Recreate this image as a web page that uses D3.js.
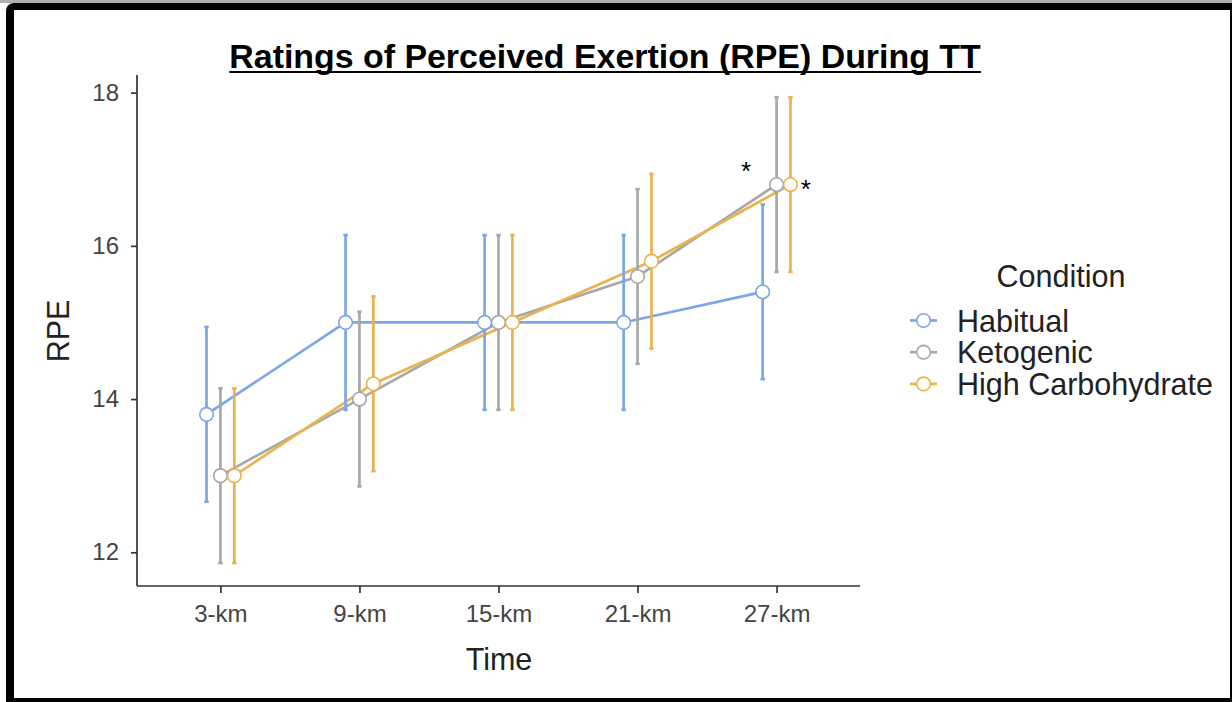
<!DOCTYPE html>
<html>
<head>
<meta charset="utf-8">
<script src="https://cdn.jsdelivr.net/npm/d3@7"></script>
<style>
  html, body { margin: 0; padding: 0; background: #fff; }
  svg { display: block; font-family: "Liberation Sans", Arial, Helvetica, sans-serif; }
</style>
</head>
<body>
<svg id="chart" width="1232" height="702"></svg>
<script>
// time points on the x axis
const distances = ["3-km", "9-km", "15-km", "21-km", "27-km"];
const conditions = ["Habitual", "Ketogenic", "High Carbohydrate"];

// mean RPE per condition
const habitual = [13.8, 15.0, 15.0, 15.0, 15.4];
const ketogenic = [13.0, 14.0, 15.0, 15.6, 16.8];
const highCarb = [13.0, 14.2, 15.0, 15.8, 16.8];

// error bar half-widths
const habitualErr = [1.14, 1.14, 1.14, 1.14, 1.14];
const ketogenicErr = [1.14, 1.14, 1.14, 1.14, 1.14];
const highCarbErr = [1.14, 1.14, 1.14, 1.14, 1.14];

const yTicks = [12, 14, 16, 18];

// significance marks near 27-km
const stars = [
  { at: "27-km", shift: -0.22, y: 16.86, label: "*" },
  { at: "27-km", shift: 0.21, y: 16.63, label: "*" }
];

const colors = ["#7ba7e9", "#a8a8a8", "#e9b44f"];
const dodge = [-0.1, 0, 0.1];

const series = [
  { name: conditions[0], means: habitual, errs: habitualErr },
  { name: conditions[1], means: ketogenic, errs: ketogenicErr },
  { name: conditions[2], means: highCarb, errs: highCarbErr }
];

const svg = d3.select("#chart");

// photo frame around the figure
svg.append("rect").attr("x", 0).attr("y", 0).attr("width", 1232).attr("height", 3).attr("fill", "#b0b0b0");
svg.append("rect").attr("x", 6).attr("y", 3).attr("width", 1240).attr("height", 720)
  .attr("rx", 8).attr("fill", "#000");
svg.append("rect").attr("x", 14).attr("y", 10).attr("width", 1216).attr("height", 688).attr("fill", "#fff");

const pLeft = 137, pRight = 860, pTop = 75, pBottom = 586;

const x = d3.scalePoint().domain(distances).range([pLeft, pRight]).padding(0.6);
const step = x.step();
const y = d3.scaleLinear().domain([11.56, 18.23]).range([pBottom, pTop]);

const px = (d, i) => x(d) + dodge[i] * step;

// axes
const yAxis = svg.append("g")
  .attr("transform", `translate(${pLeft},0)`)
  .call(d3.axisLeft(y).tickValues(yTicks).tickSize(6).tickPadding(12).tickFormat(d3.format("d")));
const xAxis = svg.append("g")
  .attr("transform", `translate(0,${pBottom})`)
  .call(d3.axisBottom(x).tickSize(7).tickPadding(12));

[yAxis, xAxis].forEach(a => {
  a.select(".domain").attr("stroke", "#333").attr("stroke-width", 1.7);
  a.selectAll(".tick line").attr("stroke", "#333").attr("stroke-width", 1.7);
  a.selectAll(".tick text").attr("fill", "#444").attr("font-size", 24).attr("font-family", null);
});
yAxis.select(".domain").attr("d", `M0,${pTop}V${pBottom}`);
xAxis.select(".domain").attr("d", `M${pLeft},0H${pRight}`);

const plot = svg.append("g");

series.forEach((s, i) => {
  const line = d3.line()
    .x((d, j) => px(distances[j], i))
    .y(d => y(d));
  plot.append("path")
    .datum(s.means)
    .attr("fill", "none")
    .attr("stroke", colors[i])
    .attr("stroke-width", 2.7)
    .attr("d", line);
});

series.forEach((s, i) => {
  const g = plot.append("g");
  const bars = g.selectAll("g.err")
    .data(s.means.map((m, j) => ({ k: distances[j], m, e: s.errs[j] })))
    .enter().append("g");
  bars.append("line")
    .attr("x1", d => px(d.k, i)).attr("x2", d => px(d.k, i))
    .attr("y1", d => y(d.m - d.e)).attr("y2", d => y(d.m + d.e))
    .attr("stroke", colors[i]).attr("stroke-width", 2.7);
  [-1, 1].forEach(sg => {
    bars.append("line")
      .attr("x1", d => px(d.k, i) - 2.2).attr("x2", d => px(d.k, i) + 2.2)
      .attr("y1", d => y(d.m + sg * d.e)).attr("y2", d => y(d.m + sg * d.e))
      .attr("stroke", colors[i]).attr("stroke-width", 2.7);
  });
});

series.forEach((s, i) => {
  plot.selectAll(null)
    .data(s.means)
    .enter().append("circle")
    .attr("cx", (d, j) => px(distances[j], i))
    .attr("cy", d => y(d))
    .attr("r", 6.8)
    .attr("fill", "#fff")
    .attr("stroke", colors[i])
    .attr("stroke-width", 1.6);
});

svg.selectAll("text.star")
  .data(stars)
  .enter().append("text")
  .attr("x", d => x(d.at) + d.shift * step)
  .attr("y", d => y(d.y))
  .attr("text-anchor", "middle")
  .attr("font-size", 26)
  .attr("fill", "#000")
  .text(d => d.label);

// titles
const title = svg.append("text")
  .attr("x", 605).attr("y", 68)
  .attr("text-anchor", "middle")
  .attr("font-size", 33.9).attr("font-weight", "bold")
  .attr("fill", "#000")
  .text("Ratings of Perceived Exertion (RPE) During TT");
const tb = title.node().getBBox();
svg.append("line")
  .attr("x1", tb.x).attr("x2", tb.x + tb.width)
  .attr("y1", 72).attr("y2", 72)
  .attr("stroke", "#000").attr("stroke-width", 2.2);

svg.append("text")
  .attr("x", 499).attr("y", 670)
  .attr("text-anchor", "middle")
  .attr("font-size", 30.5).attr("fill", "#222")
  .text("Time");

svg.append("text")
  .attr("transform", "translate(69,331) rotate(-90)")
  .attr("text-anchor", "middle")
  .attr("font-size", 30.5).attr("fill", "#222")
  .text("RPE");

// legend
const legend = svg.append("g");
legend.append("text")
  .attr("x", 1061).attr("y", 287)
  .attr("text-anchor", "middle")
  .attr("font-size", 30.5).attr("fill", "#222")
  .text("Condition");

const rows = legend.selectAll("g.row")
  .data(conditions)
  .enter().append("g")
  .attr("transform", (d, i) => `translate(0,${320.5 + i * 31.7})`);
rows.append("line")
  .attr("x1", 910).attr("x2", 937).attr("y1", 0).attr("y2", 0)
  .attr("stroke", (d, i) => colors[i]).attr("stroke-width", 2.7);
rows.append("circle")
  .attr("cx", 923.5).attr("cy", 0).attr("r", 6.8)
  .attr("fill", "#fff")
  .attr("stroke", (d, i) => colors[i]).attr("stroke-width", 1.6);
rows.append("text")
  .attr("x", 957).attr("y", 11)
  .attr("font-size", 30.5).attr("fill", "#222")
  .text(d => d);
</script>
</body>
</html>
